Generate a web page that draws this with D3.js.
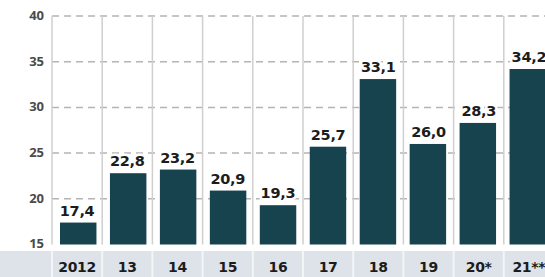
<!DOCTYPE html>
<html>
<head>
<meta charset="utf-8">
<script src="https://cdn.jsdelivr.net/npm/d3@7"></script>
<style>
  html, body { margin: 0; padding: 0; background: #fff; }
  #body { width: 545px; height: 277px; overflow: hidden; }
</style>
</head>
<body>
<div id="body"></div>
<script>
const years = ["2012", "13", "14", "15", "16", "17", "18", "19", "20*", "21**"];
const values = [17.4, 22.8, 23.2, 20.9, 19.3, 25.7, 33.1, 26.0, 28.3, 34.2];
const yTicks = [15, 20, 25, 30, 35, 40];

const width = 545, height = 277;
const plotLeft = 52, plotRight = 554, plotTop = 16, base = 244.5, bandTop = 251;

const svg = d3.select("#body")
  .append("svg")
  .attr("width", width)
  .attr("height", height);

let xCol = d3.scaleBand().domain(years).range([plotLeft, plotRight]).padding(0);
let xBar = d3.scaleBand().domain(years).range([plotLeft, plotRight])
  .paddingInner(0.27).paddingOuter(0.16);
let y = d3.scaleLinear().domain([15, 40]).range([base, plotTop]);

// bottom band
svg.append("rect")
  .attr("x", 0).attr("y", bandTop)
  .attr("width", width).attr("height", height - bandTop)
  .attr("fill", "#dde3e9");

svg.append("g")
  .selectAll("line")
  .data(years)
  .join("line")
  .attr("x1", d => xCol(d)).attr("x2", d => xCol(d))
  .attr("y1", bandTop).attr("y2", height)
  .attr("stroke", "#f3f5f7")
  .attr("stroke-width", 2);

// horizontal dashed grid
svg.append("g")
  .selectAll("line")
  .data(yTicks.filter(d => d > 15))
  .join("line")
  .attr("x1", plotLeft).attr("x2", width)
  .attr("y1", d => y(d)).attr("y2", d => y(d))
  .attr("stroke", "#b4b4b4")
  .attr("stroke-width", 1.5)
  .attr("stroke-dasharray", "7,5");

// vertical column lines
svg.append("g")
  .selectAll("line")
  .data(years)
  .join("line")
  .attr("x1", d => xCol(d)).attr("x2", d => xCol(d))
  .attr("y1", plotTop).attr("y2", base)
  .attr("stroke", "#cfcfcf")
  .attr("stroke-width", 1.5);

// y tick labels
svg.append("g")
  .selectAll("text")
  .data(yTicks)
  .join("text")
  .attr("x", 44)
  .attr("y", d => y(d))
  .attr("dy", "0.3em")
  .attr("text-anchor", "end")
  .attr("font-family", "'Open Sans', sans-serif")
  .attr("font-weight", 700)
  .attr("font-size", 13)
  .attr("fill", "#4a4a4a")
  .text(d => d);

// bars
svg.append("g")
  .selectAll("rect")
  .data(values)
  .join("rect")
  .attr("x", (d, i) => xBar(years[i]))
  .attr("width", xBar.bandwidth())
  .attr("y", d => y(d))
  .attr("height", d => base - y(d))
  .attr("fill", "#17434f");

// value labels with white halo
const fmt = d => d.toFixed(1).replace(".", ",");
const labels = svg.append("g")
  .attr("font-family", "'DejaVu Sans', sans-serif")
  .attr("font-weight", "bold")
  .attr("font-size", 14.5)
  .attr("letter-spacing", -0.3)
  .attr("text-anchor", "middle");

labels.selectAll("text.halo")
  .data(values)
  .join("text")
  .attr("class", "halo")
  .attr("x", (d, i) => xCol(years[i]) + xCol.bandwidth() / 2)
  .attr("y", d => y(d) - 7)
  .attr("stroke", "#fff")
  .attr("stroke-width", 5)
  .attr("fill", "#fff")
  .text(fmt);

labels.selectAll("text.val")
  .data(values)
  .join("text")
  .attr("class", "val")
  .attr("x", (d, i) => xCol(years[i]) + xCol.bandwidth() / 2)
  .attr("y", d => y(d) - 7)
  .attr("fill", "#1c1c1c")
  .text(fmt);

// category labels
svg.append("g")
  .selectAll("text")
  .data(years)
  .join("text")
  .attr("x", d => xCol(d) + xCol.bandwidth() / 2)
  .attr("y", 272)
  .attr("text-anchor", "middle")
  .attr("font-family", "'DejaVu Sans', sans-serif")
  .attr("font-weight", "bold")
  .attr("font-size", 14)
  .attr("letter-spacing", -0.3)
  .attr("fill", "#1c1c1c")
  .text(d => d);
</script>
</body>
</html>
